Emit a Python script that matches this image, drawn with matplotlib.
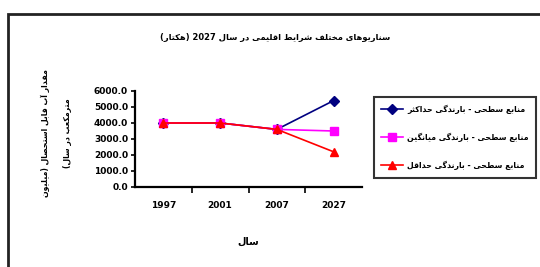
import re
import unicodedata
import matplotlib
matplotlib.use("Agg")
import matplotlib.pyplot as plt
from matplotlib.patches import Rectangle

# data
years = ["1997", "2001", "2007", "2027"]
max_rain = [4000, 4000, 3600, 5400]
mean_rain = [4000, 4000, 3600, 3500]
min_rain = [4000, 4000, 3600, 2200]
series_labels = [
    "منابع سطحی - بارندگی حداکثر",
    "منابع سطحی - بارندگی میانگین",
    "منابع سطحی - بارندگی حداقل",
]
title = "سناریوهای مختلف شرایط اقلیمی در سال 2027 (هکتار)"
ylabel = "مقدار آب قابل استحصال (میلیون\nمترمکعب در سال)"
xlabel = "سال"

NO_LEFT = set("اآأإدذرزژوؤة")


def _is_ar(ch):
    return unicodedata.name(ch, "").startswith("ARABIC LETTER")


def _form(ch, kind):
    try:
        return unicodedata.lookup(unicodedata.name(ch) + " " + kind + " FORM")
    except (KeyError, ValueError):
        return ch


def fa(text):
    # crude shaping + visual ordering, matplotlib does neither
    lines = []
    for line in text.split("\n"):
        out = []
        for i, ch in enumerate(line):
            if not _is_ar(ch):
                out.append(ch)
                continue
            prev = line[i - 1] if i > 0 else " "
            nxt = line[i + 1] if i + 1 < len(line) else " "
            jp = _is_ar(prev) and prev not in NO_LEFT
            jn = ch not in NO_LEFT and _is_ar(nxt)
            kind = "MEDIAL" if jp and jn else "FINAL" if jp else "INITIAL" if jn else "ISOLATED"
            out.append(_form(ch, kind))
        s = "".join(out)
        runs = re.findall(r"[0-9]+|[^0-9]+", s)
        mirror = str.maketrans("()", ")(")
        lines.append("".join(r if r[0].isdigit() else r[::-1].translate(mirror)
                             for r in reversed(runs)))
    return "\n".join(lines)


plt.rcParams["font.family"] = ["DejaVu Sans"]
plt.rcParams["font.weight"] = "bold"

fig = plt.figure(figsize=(5.4, 2.67), dpi=100)
fig.patches.append(Rectangle((8 / 540, -0.2), 1.2, 1.2 - 14 / 267, transform=fig.transFigure,
                             fill=False, edgecolor="#222222", linewidth=2))

ax = fig.add_axes([135 / 540, 80 / 267, 227 / 540, 96 / 267])
x = range(len(years))
ax.plot(x, max_rain, color="#000080", marker="D", markersize=5, linewidth=1.2, label=fa(series_labels[0]))
ax.plot(x, mean_rain, color="#FF00FF", marker="s", markersize=6, linewidth=1.2, label=fa(series_labels[1]))
ax.plot(x, min_rain, color="#FF0000", marker="^", markersize=6, linewidth=1.2, label=fa(series_labels[2]))

ax.set_xlim(-0.5, len(years) - 0.5)
ax.set_ylim(0, 6000)
ax.set_yticks(range(0, 6001, 1000))
ax.set_yticklabels([f"{v:.1f}" for v in range(0, 6001, 1000)], fontsize=6.5, fontweight="bold")
ax.set_xticks([i + 0.5 for i in range(len(years) - 1)])
ax.set_xticklabels([])
ax.set_xticks(list(x), minor=True)
ax.set_xticklabels(years, minor=True, fontsize=6.5, fontweight="bold")
ax.tick_params(axis="x", which="minor", length=0, pad=10)
ax.tick_params(axis="x", which="major", length=4, width=1.2, direction="out")
ax.tick_params(axis="y", length=3, width=1.2, pad=2)
for side in ["top", "right"]:
    ax.spines[side].set_visible(False)
for side in ["left", "bottom"]:
    ax.spines[side].set_linewidth(1.6)

ax.set_xlabel(fa(xlabel), fontsize=7, fontweight="bold", labelpad=19)
fig.text(56 / 540, 134 / 267, fa(ylabel), rotation=90, ha="center", va="center",
         fontsize=5.6, fontweight="bold", linespacing=2.9)
fig.text(275 / 540, 1 - 38 / 267, fa(title), ha="center", va="center", fontsize=6, fontweight="bold")

leg = ax.legend(loc="center", bbox_to_anchor=(455 / 540, 1 - 137.5 / 267), bbox_transform=fig.transFigure,
                fontsize=5.6, frameon=True, fancybox=False, edgecolor="black", handlelength=2.8,
                labelspacing=2.4, borderpad=1.0, handletextpad=0.5, borderaxespad=0)
leg.get_frame().set_linewidth(1.5)

fig.savefig("out.png", dpi=100, facecolor="white")
